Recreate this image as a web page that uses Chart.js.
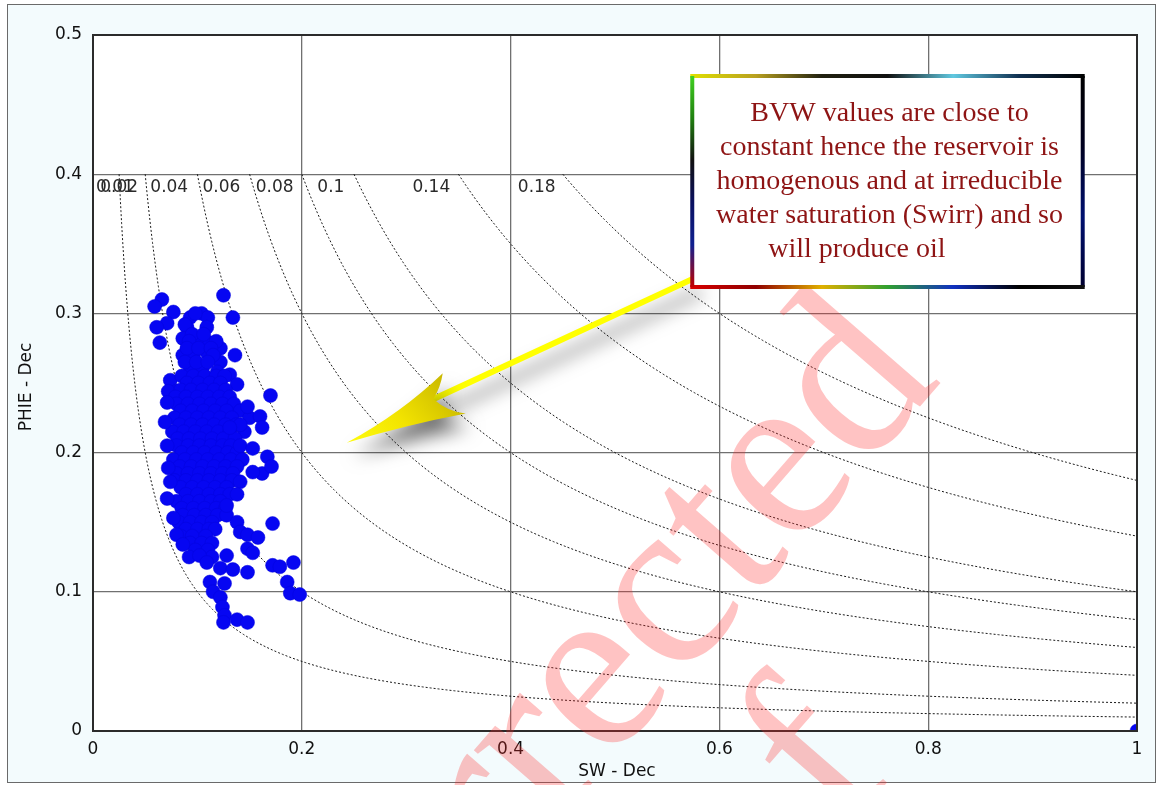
<!DOCTYPE html>
<html>
<head>
<meta charset="utf-8">
<script src="https://cdn.jsdelivr.net/npm/chart.js@4.4.1/dist/chart.umd.min.js"></script>
<style>
    html, body { margin: 0; padding: 0; background: #fff; }
    #wrap { width: 1162px; height: 785px; }
</style>
</head>
<body>
<div id="wrap"><canvas id="bvw-plot" width="1162" height="785"></canvas></div>
<script>
// axis ticks
const xTickLabels = ['0', '0.2', '0.4', '0.6', '0.8', '1'];
const yTickLabels = ['0', '0.1', '0.2', '0.3', '0.4', '0.5'];

// bulk volume water lines (BVW = SW * PHIE)
const bvwValues = [0.01, 0.02, 0.04, 0.06, 0.08, 0.1, 0.14, 0.18];
const bvwLabels = ['0.01', '0.02', '0.04', '0.06', '0.08', '0.1', '0.14', '0.18'];
const bvwLabelSw = [0.001, 0.005, 0.053, 0.103, 0.154, 0.213, 0.304, 0.405];

// SW / PHIE pairs
const wellPoints = [
    [0.066, 0.310], [0.059, 0.305], [0.077, 0.301], [0.071, 0.293], [0.061, 0.290], [0.064, 0.279],
    [0.125, 0.313], [0.134, 0.297], [0.136, 0.270], [0.170, 0.241],
    [0.093, 0.297], [0.104, 0.300], [0.110, 0.297], [0.090, 0.290], [0.109, 0.290], [0.086, 0.282],
    [0.104, 0.279], [0.112, 0.279], [0.122, 0.275], [0.086, 0.270], [0.096, 0.270], [0.109, 0.272],
    [0.122, 0.265], [0.093, 0.261], [0.105, 0.261], [0.119, 0.258], [0.131, 0.256], [0.138, 0.249],
    [0.074, 0.252], [0.080, 0.244], [0.072, 0.244],
    [0.098, 0.300], [0.088, 0.292], [0.095, 0.285], [0.106, 0.285], [0.092, 0.280], [0.118, 0.280],
    [0.090, 0.275], [0.101, 0.275], [0.113, 0.275], [0.115, 0.270],
    [0.088, 0.265], [0.099, 0.265], [0.110, 0.265],
    [0.085, 0.255], [0.096, 0.255], [0.107, 0.255], [0.118, 0.255], [0.126, 0.255],
    [0.090, 0.250], [0.101, 0.250], [0.112, 0.250], [0.122, 0.250],
    [0.084, 0.245], [0.094, 0.245], [0.105, 0.245], [0.116, 0.245], [0.127, 0.245],
    [0.079, 0.240], [0.089, 0.240], [0.100, 0.240], [0.110, 0.240], [0.121, 0.240], [0.131, 0.240],
    [0.080, 0.235], [0.091, 0.235], [0.102, 0.235], [0.113, 0.235], [0.124, 0.235], [0.135, 0.235],
    [0.084, 0.230], [0.095, 0.230], [0.106, 0.230], [0.117, 0.230], [0.128, 0.230], [0.141, 0.230],
    [0.078, 0.225], [0.089, 0.225], [0.100, 0.225], [0.111, 0.225], [0.122, 0.225], [0.133, 0.225], [0.150, 0.225],
    [0.083, 0.220], [0.094, 0.220], [0.105, 0.220], [0.116, 0.220], [0.127, 0.220], [0.137, 0.220],
    [0.076, 0.215], [0.087, 0.215], [0.098, 0.215], [0.109, 0.215], [0.120, 0.215], [0.131, 0.215], [0.145, 0.215],
    [0.081, 0.210], [0.092, 0.210], [0.103, 0.210], [0.114, 0.210], [0.125, 0.210], [0.136, 0.210],
    [0.080, 0.205], [0.091, 0.205], [0.102, 0.205], [0.113, 0.205], [0.124, 0.205], [0.132, 0.205],
    [0.085, 0.200], [0.096, 0.200], [0.107, 0.200], [0.118, 0.200], [0.129, 0.200], [0.138, 0.200],
    [0.077, 0.195], [0.088, 0.195], [0.099, 0.195], [0.110, 0.195], [0.121, 0.195], [0.132, 0.195], [0.143, 0.195],
    [0.083, 0.190], [0.094, 0.190], [0.105, 0.190], [0.116, 0.190], [0.127, 0.190], [0.138, 0.190],
    [0.080, 0.185], [0.091, 0.185], [0.102, 0.185], [0.113, 0.185], [0.124, 0.185], [0.134, 0.185], [0.162, 0.185],
    [0.078, 0.180], [0.089, 0.180], [0.100, 0.180], [0.111, 0.180], [0.122, 0.180], [0.133, 0.180],
    [0.084, 0.175], [0.095, 0.175], [0.106, 0.175], [0.117, 0.175], [0.128, 0.175],
    [0.089, 0.170], [0.100, 0.170], [0.111, 0.170], [0.122, 0.170], [0.131, 0.170],
    [0.080, 0.165], [0.091, 0.165], [0.102, 0.165], [0.113, 0.165], [0.122, 0.165],
    [0.085, 0.160], [0.096, 0.160], [0.107, 0.160], [0.118, 0.160], [0.127, 0.160],
    [0.086, 0.155], [0.097, 0.155], [0.108, 0.155], [0.119, 0.155], [0.128, 0.155],
    [0.082, 0.150], [0.093, 0.150], [0.104, 0.150], [0.114, 0.150],
    [0.089, 0.145], [0.100, 0.145], [0.111, 0.145], [0.117, 0.145],
    [0.084, 0.140], [0.095, 0.140], [0.108, 0.140],
    [0.093, 0.135], [0.104, 0.135], [0.114, 0.135], [0.098, 0.130], [0.110, 0.130],
    [0.092, 0.125], [0.114, 0.125],
    [0.148, 0.233], [0.160, 0.226], [0.162, 0.218], [0.141, 0.220], [0.131, 0.218], [0.141, 0.205],
    [0.153, 0.203], [0.167, 0.197], [0.171, 0.190], [0.153, 0.186], [0.141, 0.179], [0.138, 0.170],
    [0.128, 0.162], [0.071, 0.167],
    [0.071, 0.236], [0.069, 0.222], [0.071, 0.205], [0.072, 0.189], [0.074, 0.179],
    [0.077, 0.153], [0.080, 0.141], [0.086, 0.134], [0.102, 0.126], [0.109, 0.121], [0.122, 0.117],
    [0.134, 0.116], [0.148, 0.114], [0.128, 0.126], [0.138, 0.150], [0.141, 0.143], [0.148, 0.141],
    [0.158, 0.139], [0.172, 0.149], [0.148, 0.131], [0.153, 0.128], [0.172, 0.119], [0.179, 0.118],
    [0.192, 0.121], [0.186, 0.107], [0.189, 0.099], [0.198, 0.098], [0.112, 0.107], [0.126, 0.106],
    [0.115, 0.100], [0.122, 0.096], [0.124, 0.089], [0.126, 0.083], [0.125, 0.078], [0.138, 0.080],
    [0.148, 0.078],
    [1.0, 0.0]
];

// callout text
const noteLines = [
    'BVW values are close to',
    'constant hence the reservoir is',
    'homogenous and at irreducible',
    'water saturation (Swirr) and so',
    'will produce oil'
];

function bvwCurve(c) {
    // hyperbola SW = c / PHIE, drawn from the 0.4 grid line down to SW = 1
    const pts = [];
    const swStart = c / 0.4;
    for (let i = 0; i <= 160; i++) {
        const t = i / 160;
        const sw = swStart * Math.pow(1 / swStart, t);
        pts.push({ x: sw, y: c / sw });
    }
    return pts;
}

const curveSets = bvwValues.map(c => ({
    label: 'BVW ' + c,
    data: bvwCurve(c),
    showLine: true,
    pointRadius: 0,
    borderColor: '#1a1a1a',
    borderWidth: 1,
    borderDash: [2, 2],
    tension: 0,
    order: 2
}));

const decorPlugin = {
    id: 'decor',
    beforeDraw(chart) {
        const { ctx, chartArea: a } = chart;
        ctx.save();
        ctx.fillStyle = '#ffffff';
        ctx.fillRect(0, 0, chart.width, chart.height);
        ctx.fillStyle = '#f3fbfd';
        ctx.fillRect(7, 4, 1149, 779);
        ctx.strokeStyle = '#6a6a6a';
        ctx.lineWidth = 1;
        ctx.strokeRect(7.5, 4.5, 1148, 778);
        ctx.fillStyle = '#ffffff';
        ctx.fillRect(a.left, a.top, a.right - a.left, a.bottom - a.top);
        ctx.restore();
    },
    afterDatasetsDraw(chart) {
        const { ctx, chartArea: a, scales: { x, y } } = chart;
        ctx.save();
        ctx.strokeStyle = '#2b2b2b';
        ctx.lineWidth = 2;
        ctx.strokeRect(a.left, a.top, a.right - a.left, a.bottom - a.top);

        // BVW labels under the 0.4 line
        ctx.fillStyle = '#2a2a2a';
        ctx.font = '17px "DejaVu Sans"';
        ctx.textAlign = 'left';
        ctx.textBaseline = 'top';
        bvwLabels.forEach((lab, i) => {
            ctx.fillText(lab, x.getPixelForValue(bvwLabelSw[i]) + 2, y.getPixelForValue(0.4) + 5);
        });
        ctx.restore();
    },
    afterDraw(chart) {
        const { ctx, chartArea: a, scales: { x, y } } = chart;
        ctx.save();

        // axis titles
        ctx.fillStyle = '#111';
        ctx.font = '17px "DejaVu Sans"';
        ctx.textAlign = 'center';
        ctx.textBaseline = 'middle';
        ctx.fillText('SW - Dec', (a.left + a.right) / 2 + 2, 772);
        ctx.save();
        ctx.translate(27, 387);
        ctx.rotate(-Math.PI / 2);
        ctx.fillText('PHIE - Dec', 0, 0);
        ctx.restore();

        // watermark
        ctx.save();
        ctx.translate(550, 832);
        ctx.rotate(-49 * Math.PI / 180);
        ctx.font = '242px "Liberation Serif"';
        ctx.fillStyle = 'rgba(255, 40, 40, 0.28)';
        ctx.textAlign = 'center';
        ctx.textBaseline = 'alphabetic';
        ctx.fillText('Uncorrected', 0, 0);
        ctx.fillText('Proof', 0, 222);
        ctx.restore();

        // yellow arrow pointing at the cluster
        const px = v => x.getPixelForValue(v);
        const py = v => y.getPixelForValue(v);
        const tail = [px(0.575), py(0.325)];
        const tip = [px(0.243), py(0.207)];
        const wingUp = [px(0.335), py(0.257)];
        const notch = [px(0.326), py(0.2385)];
        const wingDn = [px(0.357), py(0.228)];
        ctx.save();
        ctx.shadowColor = 'rgba(0,0,0,0.55)';
        ctx.shadowBlur = 18;
        ctx.shadowOffsetX = 6;
        ctx.shadowOffsetY = 14;
        ctx.strokeStyle = '#ffff00';
        ctx.lineWidth = 6;
        ctx.lineCap = 'round';
        ctx.beginPath();
        ctx.moveTo(tail[0], tail[1]);
        ctx.lineTo(notch[0] - 4, notch[1] + 2);
        ctx.stroke();
        const g = ctx.createLinearGradient(wingUp[0], wingUp[1], tip[0], tip[1] + 10);
        g.addColorStop(0, '#c9b800');
        g.addColorStop(0.5, '#f3e400');
        g.addColorStop(1, '#ffff10');
        ctx.fillStyle = g;
        ctx.beginPath();
        ctx.moveTo(tip[0], tip[1]);
        ctx.quadraticCurveTo(tip[0] + 55, tip[1] - 30, wingUp[0], wingUp[1]);
        ctx.quadraticCurveTo(wingUp[0] - 2, notch[1] - 12, notch[0], notch[1]);
        ctx.quadraticCurveTo(notch[0] + 14, wingDn[1] - 2, wingDn[0], wingDn[1]);
        ctx.quadraticCurveTo(tip[0] + 60, tip[1] - 18, tip[0], tip[1]);
        ctx.closePath();
        ctx.fill();
        ctx.restore();

        // callout box
        const bx0 = px(0.574), bx1 = px(0.948);
        const by0 = py(0.4705), by1 = py(0.319);
        ctx.fillStyle = '#ffffff';
        ctx.fillRect(bx0, by0, bx1 - bx0, by1 - by0);
        ctx.lineWidth = 4;
        const edge = (x0, y0, x1, y1, stops) => {
            const gr = ctx.createLinearGradient(x0, y0, x1, y1);
            stops.forEach((c, i) => gr.addColorStop(i / (stops.length - 1), c));
            ctx.strokeStyle = gr;
            ctx.beginPath();
            ctx.moveTo(x0, y0);
            ctx.lineTo(x1, y1);
            ctx.stroke();
        };
        edge(bx0 - 2, by0, bx1 + 2, by0, ['#e0e000', '#b8a020', '#202010', '#101010', '#60c8e0', '#103050', '#000000']);
        edge(bx1, by0, bx1, by1, ['#000000', '#000020', '#001070', '#000030']);
        edge(bx0 - 2, by1, bx1 + 2, by1, ['#d80000', '#900000', '#e0b000', '#30a030', '#1030c0', '#000000', '#101010']);
        edge(bx0, by0, bx0, by1, ['#40d020', '#208010', '#101010', '#0a1060', '#102090', '#c00000']);

        ctx.fillStyle = '#8e1414';
        ctx.font = '28px "Liberation Serif"';
        ctx.textBaseline = 'alphabetic';
        const cx = (bx0 + bx1) / 2 + 2;
        noteLines.forEach((line, i) => {
            const yy = by0 + 45 + i * 34;
            if (i === noteLines.length - 1) {
                ctx.textAlign = 'left';
                ctx.fillText(line, bx0 + 76, yy);
            } else {
                ctx.textAlign = 'center';
                ctx.fillText(line, cx, yy);
            }
        });
        ctx.restore();
    }
};

new Chart(document.getElementById('bvw-plot'), {
    type: 'scatter',
    data: {
        datasets: [
            ...curveSets,
            {
                label: 'Well data',
                data: wellPoints.map(p => ({ x: p[0], y: p[1] })),
                pointRadius: 7,
                pointBackgroundColor: '#0606f2',
                pointBorderColor: '#0404dc',
                pointBorderWidth: 0.5,
                clip: 0,
                order: 1
            }
        ]
    },
    options: {
        responsive: false,
        animation: false,
        devicePixelRatio: 1,
        layout: { padding: { left: 0, top: 35, right: 25, bottom: 0 } },
        plugins: {
            legend: { display: false },
            tooltip: { enabled: false }
        },
        scales: {
            x: {
                type: 'linear',
                min: 0,
                max: 1,
                afterFit: s => { s.height = 54; },
                ticks: {
                    stepSize: 0.2,
                    padding: 8,
                    color: '#111',
                    font: { family: 'DejaVu Sans', size: 17 },
                    maxRotation: 0,
                    callback: (v, i) => xTickLabels[i]
                },
                grid: { color: '#707070', lineWidth: 1.3, drawTicks: false },
                border: { display: false }
            },
            y: {
                type: 'linear',
                min: 0,
                max: 0.5,
                afterFit: s => { s.width = 93; },
                ticks: {
                    stepSize: 0.1,
                    padding: 11,
                    color: '#111',
                    font: { family: 'DejaVu Sans', size: 17 },
                    callback: (v, i) => yTickLabels[i]
                },
                grid: { color: '#707070', lineWidth: 1.3, drawTicks: false },
                border: { display: false }
            }
        }
    },
    plugins: [decorPlugin]
});
</script>
</body>
</html>
